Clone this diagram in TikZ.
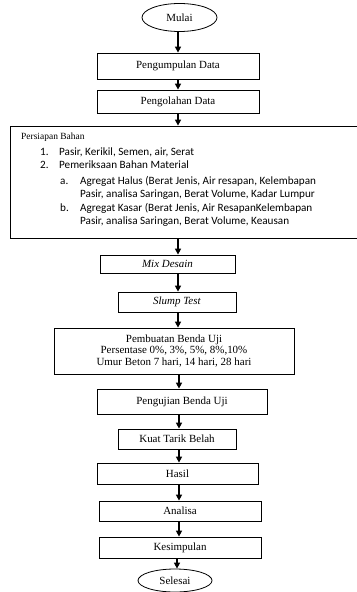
\documentclass[tikz,border=0pt]{standalone}
\usepackage{fontspec}
\setmainfont{Liberation Serif}
\newfontfamily\calib{Carlito}
\usetikzlibrary{shapes.geometric,arrows.meta}
\begin{document}
\begin{tikzpicture}[x=1bp,y=-1bp,
  box/.style={draw,line width=0.8bp,rectangle,inner sep=0pt,font=\fontsize{11}{12}\selectfont},
  oval/.style={draw,line width=0.8bp,ellipse,inner sep=0pt,font=\fontsize{11}{12}\selectfont},
  arr/.style={line width=1.5bp,-{Triangle[length=6bp,width=6bp]}}]
\useasboundingbox (0,0) rectangle (356,592);
\node[oval,minimum width=75bp,minimum height=28bp] (mulai) at (179.5,17.5) {Mulai};
\node[box,minimum width=162bp,minimum height=26bp] (kumpul) at (178,66) {Pengumpulan Data};
\node[box,minimum width=162bp,minimum height=23bp] (olah) at (178,101.5) {Pengolahan Data};
\node[box,minimum width=348bp,minimum height=112bp] (siap) at (184,182) {};
\node[anchor=base west,font=\fontsize{9.5}{10}\selectfont,inner sep=0pt] (t0) at (21,140) {Persiapan Bahan};
\begin{scope}[every node/.style={anchor=base west,font=\calib\fontsize{11.2}{12}\selectfont,inner sep=0pt}]
\node (n1) at (40,156) {1.};
\node (l1) at (59,156) {Pasir, Kerikil, Semen, air, Serat};
\node (n2) at (40,169) {2.};
\node (l2) at (59,169) {Pemeriksaan Bahan Material};
\node (na) at (60,184) {a.};
\node (la) at (80,184) {Agregat Halus (Berat Jenis, Air resapan, Kelembapan};
\node (la2) at (80,197) {Pasir, analisa Saringan, Berat Volume, Kadar Lumpur};
\node (nb) at (60,211) {b.};
\node (lb) at (80,211) {Agregat Kasar (Berat Jenis, Air ResapanKelembapan};
\node (lb2) at (80,224) {Pasir, analisa Saringan, Berat Volume, Keausan};
\end{scope}
\node[box,minimum width=135bp,minimum height=18bp] (mix) at (167.5,264) {\textit{Mix Desain}};
\node[box,minimum width=118bp,minimum height=20bp] (slump) at (177,302) {\textit{Slump Test}};
\node[box,minimum width=240bp,minimum height=46bp,align=center] (buat) at (174,351) {Pembuatan Benda Uji\\Persentase 0\%, 3\%, 5\%, 8\%,10\%\\Umur Beton 7 hari, 14 hari, 28 hari};
\node[box,minimum width=170bp,minimum height=25bp] (uji) at (182,401.5) {Pengujian Benda Uji};
\node[box,minimum width=118bp,minimum height=20bp] (kuat) at (177,439) {Kuat Tarik Belah};
\node[box,minimum width=161bp,minimum height=21bp] (hasil) at (177.5,473.5) {Hasil};
\node[box,minimum width=162bp,minimum height=20bp] (anal) at (180,511) {Analisa};
\node[box,minimum width=162bp,minimum height=21bp] (simp) at (180,547.5) {Kesimpulan};
\node[oval,minimum width=74bp,minimum height=23bp] (selesai) at (175,580.5) {Selesai};
\coordinate (x1) at (178,0);
\coordinate (x2) at (179,0);
\coordinate (x3) at (177,0);
\draw[arr] (mulai.south -| x1) -- (kumpul.north -| x1);
\draw[arr] (kumpul.south -| x1) -- (olah.north -| x1);
\draw[arr] (olah.south -| x1) -- (siap.north -| x1);
\draw[arr] (siap.south -| x1) -- (mix.north -| x1);
\draw[arr] (mix.south -| x1) -- (slump.north -| x1);
\draw[arr] (slump.south -| x1) -- (buat.north -| x1);
\draw[arr] (buat.south -| x2) -- (uji.north -| x2);
\draw[arr] (uji.south -| x2) -- (kuat.north -| x2);
\draw[arr] (kuat.south -| x2) -- (hasil.north -| x2);
\draw[arr] (hasil.south -| x2) -- (anal.north -| x2);
\draw[arr] (anal.south -| x2) -- (simp.north -| x2);
\draw[arr] (simp.south -| x3) -- (selesai.north -| x3);
\end{tikzpicture}
\end{document}
